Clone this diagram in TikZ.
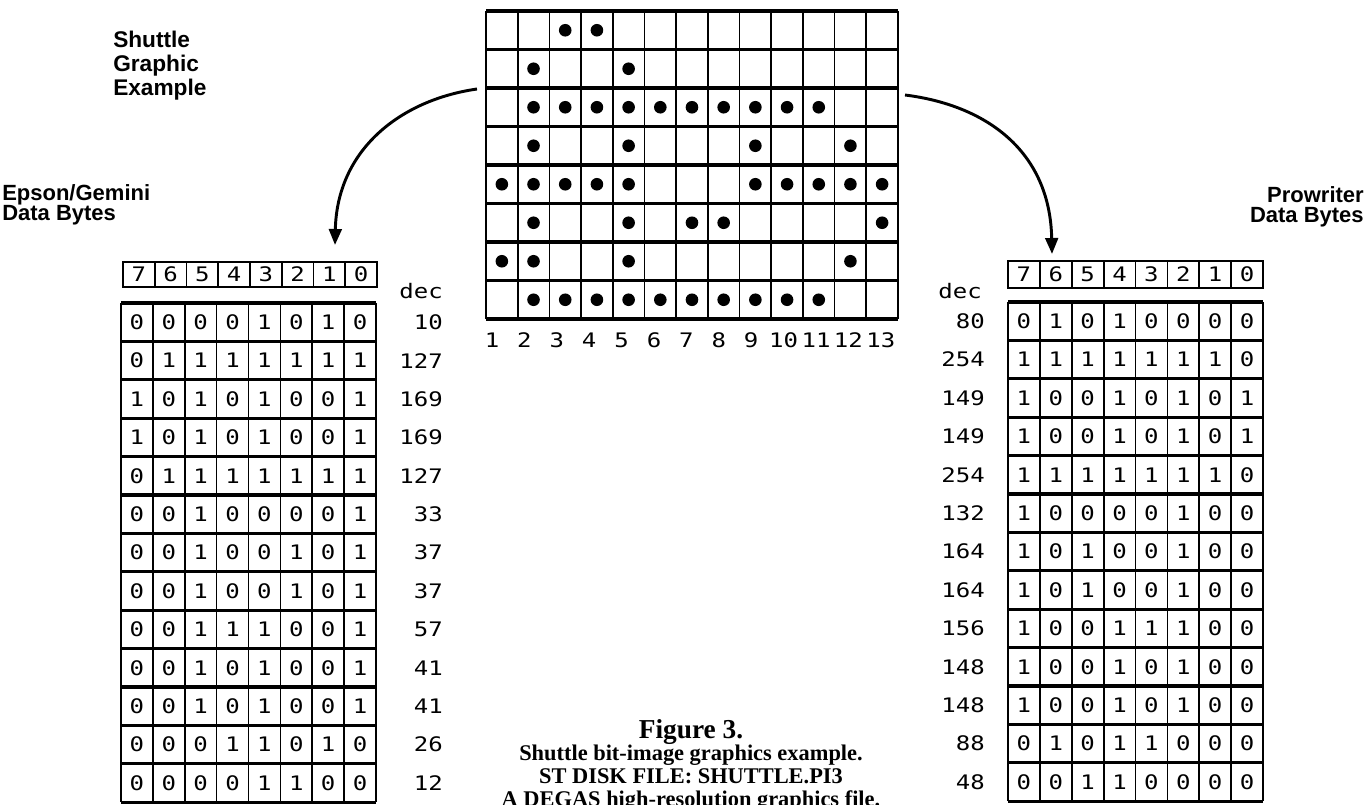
\documentclass[tikz,border=0pt]{standalone}
\usepackage{fontspec}
\setmainfont{Liberation Serif}
\setsansfont{Liberation Sans}
\newfontfamily\dotfont[FakeStretch=1.2]{DejaVu Sans Mono}
\usetikzlibrary{arrows.meta, positioning}

\begin{document}
\begin{tikzpicture}[
    x=0.75pt, y=-0.75pt,
    thinline/.style={line width=1.3pt},
    thickline/.style={line width=2.5pt},
    bitcell/.style={font=\dotfont\fontsize{15}{15}\selectfont, inner sep=0pt},
    dectext/.style={font=\dotfont\fontsize{15}{15}\selectfont, inner sep=0pt, anchor=east},
    heading/.style={font=\sffamily\bfseries\fontsize{17}{18}\selectfont, align=left, inner sep=0pt},
    captext/.style={font=\rmfamily\bfseries\fontsize{16.8}{17}\selectfont, align=center, inner sep=0pt},
    pixel/.style={fill=black},
    bendarrow/.style={line width=2.2pt, -{Triangle[length=12pt,width=9.5pt]}}
]
    \useasboundingbox (0,0) rectangle (1366,804);

    % ================= HEADINGS =================
    \node[heading, anchor=north west] (shuttle_title) at (113,31) {Shuttle\\Graphic\\Example};
    \node[heading, anchor=north west, font=\sffamily\bfseries\fontsize{16.5}{15}\selectfont] (epson_title) at (2,184) {Epson/Gemini\\Data Bytes};
    \node[heading, anchor=north east, align=right, font=\sffamily\bfseries\fontsize{16.5}{15}\selectfont] (prow_title) at (1364,186) {Prowriter\\Data Bytes};

    % ================= SHUTTLE GRID =================
    \foreach \c in {0,...,13}
        \draw[thinline] ({486+\c*31.69},11) -- ({486+\c*31.69},319);
    \foreach \r in {0,...,8}
        \draw[thickline] (486,{11+\r*38.5}) -- (898,{11+\r*38.5});

    \foreach \r/\cols in {1/{3,4}, 2/{2,5}, 3/{2,...,11}, 4/{2,5,9,12},
                          5/{1,2,3,4,5,9,10,11,12,13}, 6/{2,5,7,8,13},
                          7/{1,2,5,12}, 8/{2,...,11}}
        \foreach \c in \cols
            \fill[pixel] ({486+(\c-0.5)*31.69},{11+(\r-0.5)*38.5}) circle[radius=6.3];

    \foreach \n in {1,...,13}
        \node[bitcell] (col\n) at ({492+(\n-1)*32.4},340) {\n};

    % ================= EPSON TABLE =================
    \draw[thinline] (123,262) rectangle (377,287);
    \foreach \k [evaluate=\k as \b using int(7-\k)] in {0,...,7} {
        \draw[thinline] ({123+\k*31.75},262) -- ({123+\k*31.75},287);
        \node[bitcell] (ehead-\k) at ({123+(\k+0.5)*31.75},274.5) {\b};
    }
    \node[dectext] (edec) at (443,291) {dec};

    \foreach \r in {0,...,13}
        \draw[thickline] (121,{303+\r*38.4}) -- (376,{303+\r*38.4});
    \foreach \k in {0,...,8}
        \draw[thinline] ({121+\k*31.875},303) -- ({121+\k*31.875},802.2);

    \foreach \val [count=\r] in {10,127,169,169,127,33,37,37,57,41,41,26,12} {
        \node[dectext] (edec-\r) at (443,{303+(\r-0.5)*38.4}) {\val};
        \foreach \k in {0,...,7} {
            \pgfmathtruncatemacro\bit{mod(floor(\val/2^(7-\k)),2)}
            \node[bitcell] (ebit-\r-\k) at ({121+(\k+0.5)*31.875},{303+(\r-0.5)*38.4}) {\bit};
        }
    }

    % ================= PROWRITER TABLE =================
    \draw[thinline] (1008,261) rectangle (1263,288);
    \foreach \k [evaluate=\k as \b using int(7-\k)] in {0,...,7} {
        \draw[thinline] ({1008+\k*31.875},261) -- ({1008+\k*31.875},288);
        \node[bitcell] (phead-\k) at ({1008+(\k+0.5)*31.875},274.5) {\b};
    }
    \node[dectext] (pdec) at (982,291) {dec};

    \foreach \r in {0,...,13}
        \draw[thickline] (1008,{302+\r*38.4}) -- (1263,{302+\r*38.4});
    \foreach \k in {0,...,8}
        \draw[thinline] ({1008+\k*31.875},302) -- ({1008+\k*31.875},801.2);

    \foreach \val [count=\r] in {80,254,149,149,254,132,164,164,156,148,148,88,48} {
        \node[dectext] (pdec-\r) at (985,{302+(\r-0.5)*38.4}) {\val};
        \foreach \k in {0,...,7} {
            \pgfmathtruncatemacro\bit{mod(floor(\val/2^(7-\k)),2)}
            \node[bitcell] (pbit-\r-\k) at ({1008+(\k+0.5)*31.875},{302+(\r-0.5)*38.4}) {\bit};
        }
    }

    % ================= ARROWS =================
    \coordinate (lstart) at (477,89);
    \coordinate (ltip) at (335,245);
    \coordinate (rstart) at (905,95);
    \coordinate (rtip) at (1052,254);
    \draw[bendarrow] (lstart) .. controls (400,100) and (337,150) .. (ltip);
    \draw[bendarrow] (rstart) .. controls (985,105) and (1050,150) .. (rtip);

    % ================= CAPTION =================
    \node[captext, anchor=north] (caption) at (691,719)
        {{\fontsize{20.5}{17}\selectfont Figure 3.}\\
         Shuttle bit-image graphics example.\\
         ST DISK FILE: SHUTTLE.PI3\\
         A DEGAS high-resolution graphics file.};

\end{tikzpicture}
\end{document}
